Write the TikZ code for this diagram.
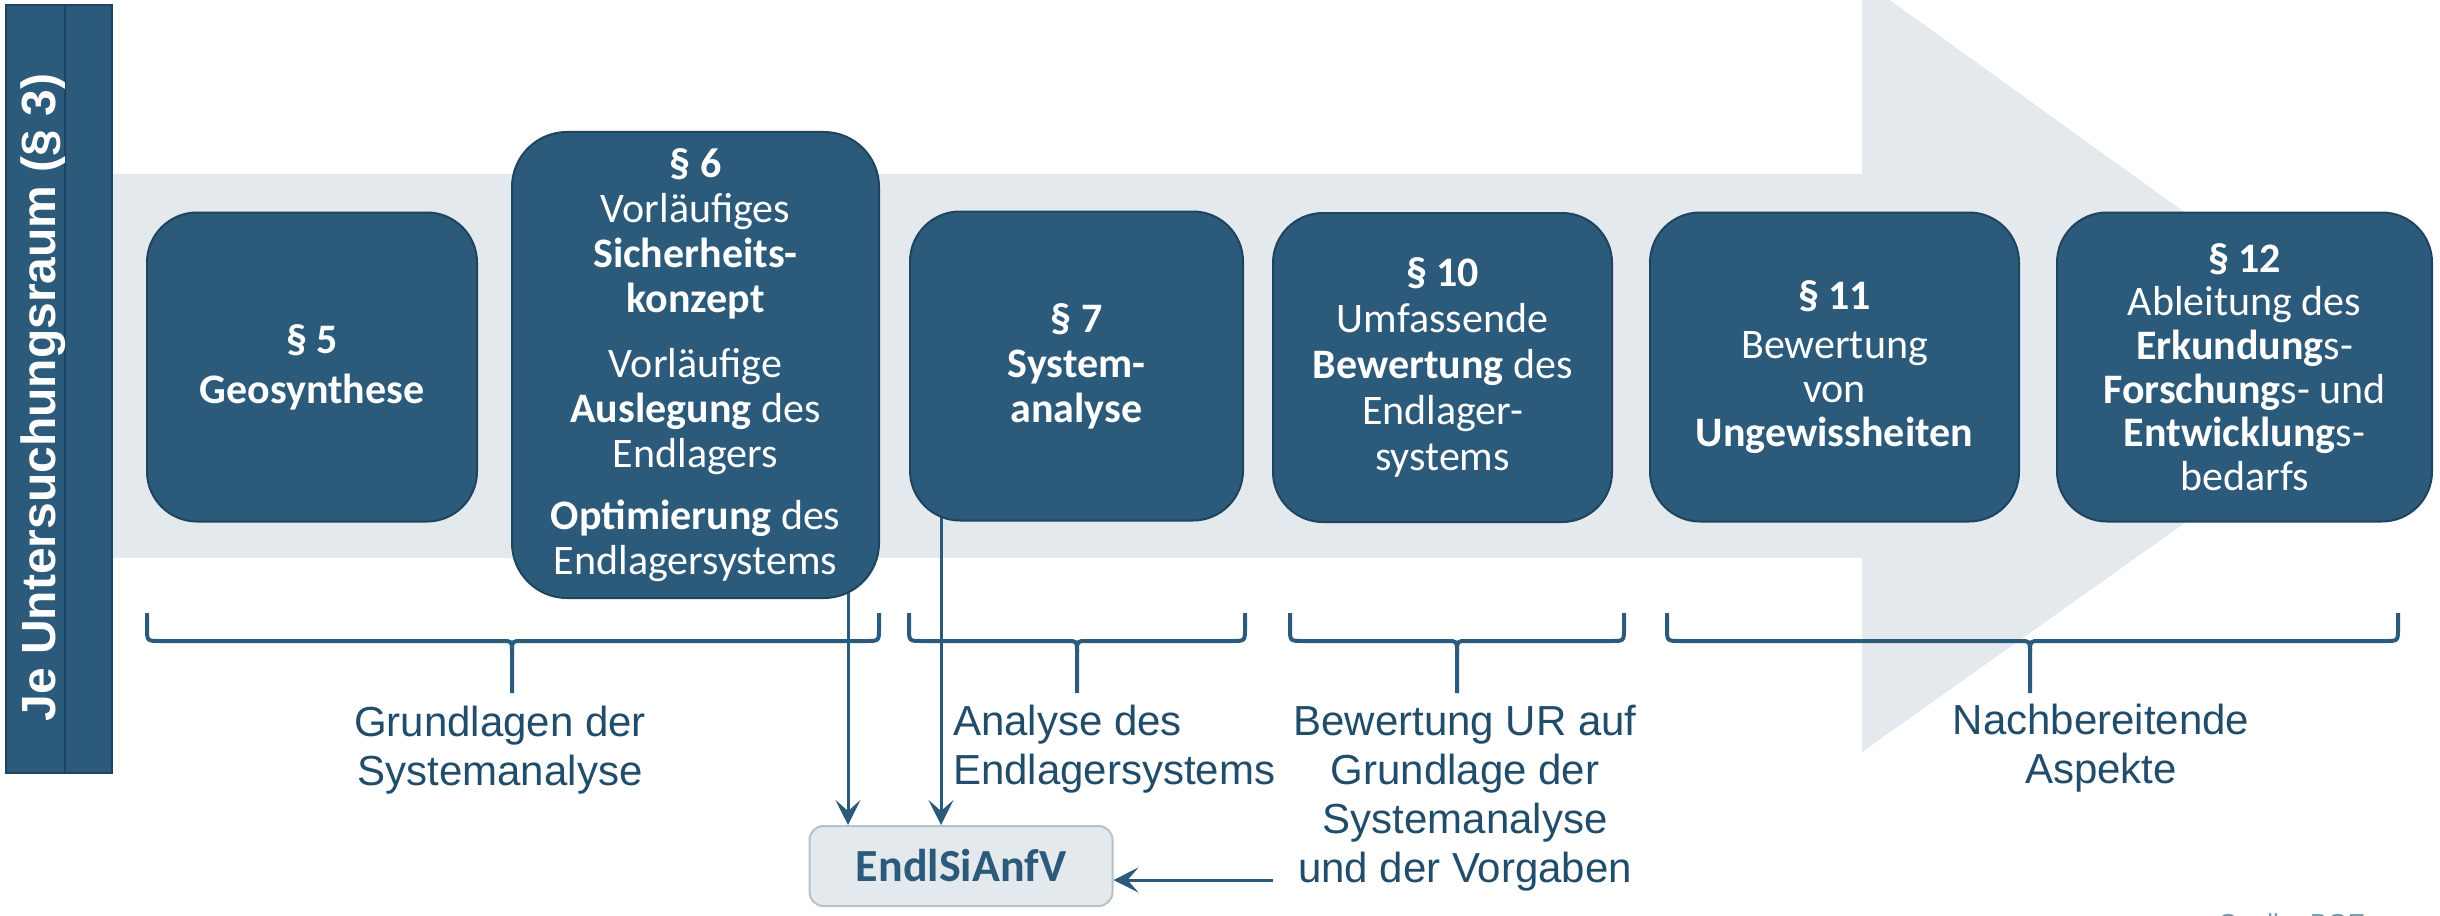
\documentclass[tikz,border=0pt]{standalone}
\usepackage{fontspec}
\setmainfont{Carlito}
\newfontfamily\arialfont{Liberation Sans}
\usetikzlibrary{arrows.meta}
\definecolor{boxblue}{RGB}{44,90,122}
\definecolor{boxedge}{RGB}{30,68,96}
\definecolor{bandgray}{RGB}{228,233,237}
\definecolor{labelblue}{RGB}{33,76,106}
\definecolor{endledge}{RGB}{180,194,205}
\definecolor{srcgray}{RGB}{120,150,165}
\pgfdeclarelayer{bg}
\pgfsetlayers{bg,main}
\newcommand\mybrace[3]{%
  \draw[brace] (#1,613) -- (#1,628) .. controls (#1,641) .. ({#1+13},641) -- ({#2-10},641) .. controls (#2,641) .. (#2,652) -- (#2,693);
  \draw[brace] (#2,652) .. controls (#2,641) .. ({#2+10},641) -- ({#3-13},641) .. controls (#3,641) .. (#3,628) -- (#3,613);}
\begin{document}
\begin{tikzpicture}[x=1pt,y=-1pt,
  box/.style={draw=boxedge, line width=2pt, fill=boxblue, rounded corners=50pt, text=white, align=center, font=\fontsize{42}{45}\selectfont, inner sep=0pt, minimum height=309pt},
  lab/.style={text=labelblue, font=\arialfont\fontsize{42}{49}\selectfont, inner sep=0pt},
  brace/.style={draw=boxblue, line width=4pt},
  arr/.style={draw=boxblue, line width=3pt, -{Stealth[length=25pt,width=25pt,inset=11pt]}},
  barstyle/.style={draw=boxedge, line width=2pt, fill=boxblue},
]
\useasboundingbox (0,0) rectangle (2440,915);
\begin{pgfonlayer}{bg}
  \fill[bandgray] (112,174) rectangle (1862,558);
  \fill[bandgray] (1862,-20) -- (2402,369) -- (1862,752) -- cycle;
\end{pgfonlayer}

% vertical bar
\draw[barstyle] (6,5) rectangle (65,773);
\draw[barstyle] (65,5) rectangle (112,773);
\node[rotate=90, anchor=base, text=white, font=\arialfont\bfseries\fontsize{48}{48}\selectfont, inner sep=0pt] (urtext) at (55,397.5) {Je Untersuchungsraum (§ 3)};

% boxes
\node[box, minimum width=330pt, font=\fontsize{42}{50}\selectfont] (s5) at (312,367) {\textbf{§ 5}\\\textbf{Geosynthese}};
\node[box, rounded corners=55pt, minimum width=367pt, minimum height=466pt] (s6) at (695.5,365)
  {\textbf{§ 6}\\Vorläufiges\\\textbf{Sicherheits-}\\\textbf{konzept}\\[20pt]Vorläufige\\\textbf{Auslegung} des\\Endlagers\\[17pt]\textbf{Optimierung} des\\Endlagersystems};
\node[box, minimum width=333pt] (s7) at (1076.5,366) {\textbf{§ 7}\\\textbf{System-}\\\textbf{analyse}};
\node[box, minimum width=339pt, font=\fontsize{42}{46}\selectfont] (s10) at (1442.5,367.5) {\textbf{§ 10}\\Umfassende\\\textbf{Bewertung} des\\Endlager-\\systems};
\node[box, minimum width=369pt, font=\fontsize{42}{44}\selectfont] (s11) at (1834.5,367) {\textbf{§ 11}\\[5pt]Bewertung\\von\\\textbf{Ungewissheiten}};
\node[box, minimum width=375pt, font=\fontsize{42}{43.6}\selectfont] (s12) at (2244.5,367) {\textbf{§ 12}\\Ableitung des\\\textbf{Erkundung}s-\\\textbf{Forschung}s- und\\\textbf{Entwicklung}s-\\bedarfs};

% braces
\mybrace{147}{512}{879}
\mybrace{909}{1077}{1245}
\mybrace{1290}{1457}{1624}
\mybrace{1667}{2030}{2398}

% labels
\node[lab, anchor=north, align=center] (l1) at (500,706) {Grundlagen der\\Systemanalyse};
\node[lab, anchor=north west, align=left] (l2) at (953,705) {Analyse des\\Endlagersystems};
\node[lab, anchor=north, align=center] (l3) at (1465,705) {Bewertung UR auf\\Grundlage der\\Systemanalyse\\und der Vorgaben};
\node[lab, anchor=north, align=center] (l4) at (2101,704) {Nachbereitende\\Aspekte};

% EndlSiAnfV
\node[draw=endledge, line width=2pt, fill=bandgray, rounded corners=14pt, minimum width=303pt, minimum height=80pt, text=boxblue, font=\bfseries\fontsize{46}{46}\selectfont] (endl) at (961,866) {EndlSiAnfV};

% arrows
\coordinate (a1) at (848,0);
\coordinate (a2) at (941,0);
\coordinate (a3) at (1273,880);
\begin{pgfonlayer}{bg}
  \draw[arr] (s6.center -| a1) -- (endl.north -| a1);
  \draw[arr] (s7.center -| a2) -- (endl.north -| a2);
  \draw[arr] (a3) -- (endl.east |- a3);
\end{pgfonlayer}

% source (cut off at the bottom)
\begin{scope}
  \clip (0,0) rectangle (2440,915);
  \node[anchor=base west, inner sep=0pt, text=srcgray, font=\arialfont\fontsize{26}{26}\selectfont] (src) at (2218,932) {Quelle: BGE};
\end{scope}
\end{tikzpicture}
\end{document}
